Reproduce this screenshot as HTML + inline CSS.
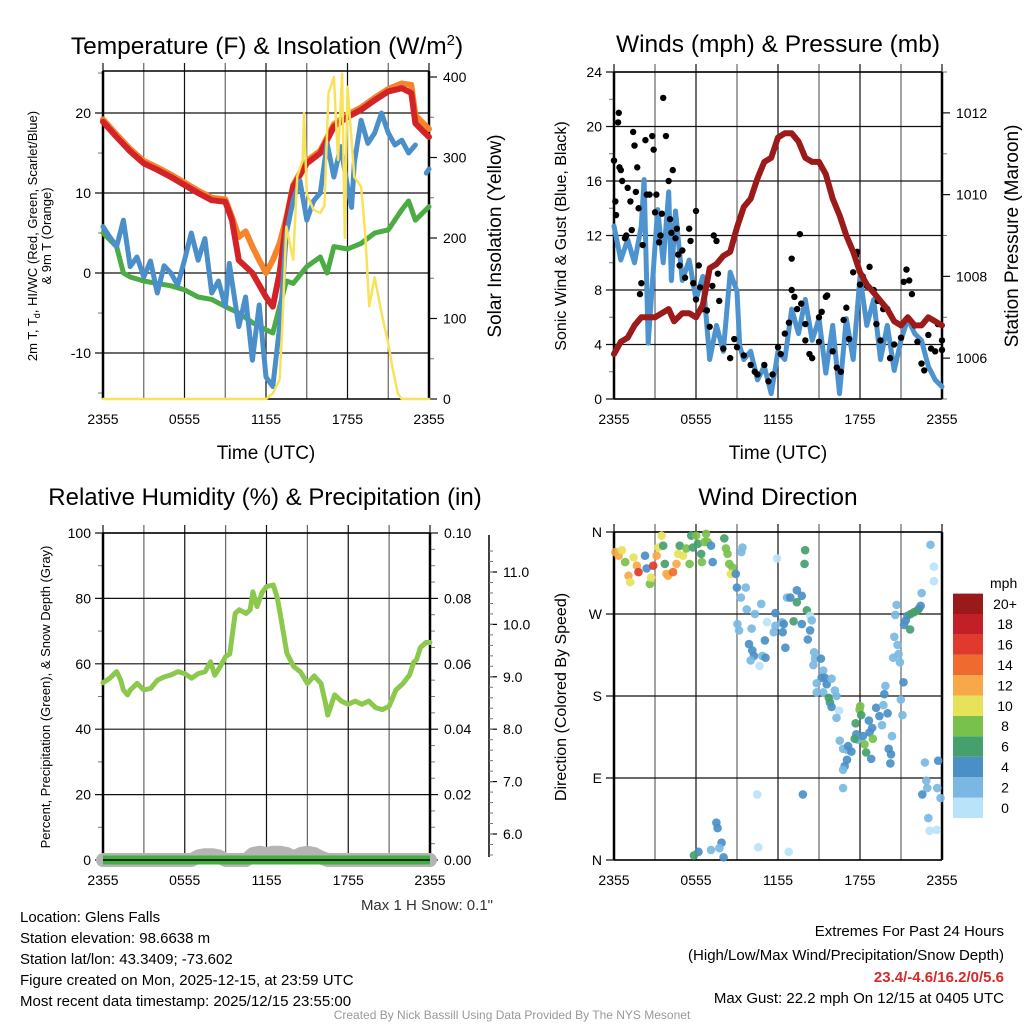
<!DOCTYPE html>
<html><head><meta charset="utf-8"><style>
html,body{margin:0;padding:0;background:#fff;}
svg{display:block;font-family:"Liberation Sans",sans-serif;}
</style></head><body>
<svg id="fig" width="1024" height="1024" viewBox="0 0 1024 1024" xmlns="http://www.w3.org/2000/svg">
<rect width="1024" height="1024" fill="#fff"/>
<!-- titles -->
<text x="267" y="54" font-size="24.5" text-anchor="middle">Temperature (F) &amp; Insolation (W/m<tspan font-size="15" dy="-9">2</tspan><tspan dy="9">)</tspan></text>
<text x="778" y="52" font-size="24.5" text-anchor="middle">Winds (mph) &amp; Pressure (mb)</text>
<text x="265" y="505" font-size="24" text-anchor="middle">Relative Humidity (%) &amp; Precipitation (in)</text>
<text x="778" y="505" font-size="24.5" text-anchor="middle">Wind Direction</text>
<!-- axis titles -->
<text transform="translate(37,236) rotate(-90)" font-size="13" text-anchor="middle">2m T, T<tspan font-size="9" dy="3">d</tspan><tspan dy="-3">, HI/WC (Red, Green, Scarlet/Blue)</tspan></text>
<text transform="translate(51,236) rotate(-90)" font-size="13" text-anchor="middle">&amp; 9m T (Orange)</text>
<text transform="translate(501,236) rotate(-90)" font-size="19" text-anchor="middle">Solar Insolation (Yellow)</text>
<text x="266" y="459" font-size="19" text-anchor="middle">Time (UTC)</text>
<text transform="translate(566,236) rotate(-90)" font-size="16" text-anchor="middle">Sonic Wind &amp; Gust (Blue, Black)</text>
<text transform="translate(1018,236) rotate(-90)" font-size="19" text-anchor="middle">Station Pressure (Maroon)</text>
<text x="778" y="459" font-size="19" text-anchor="middle">Time (UTC)</text>
<text transform="translate(50,697) rotate(-90)" font-size="13" text-anchor="middle">Percent, Precipitation (Green), &amp; Snow Depth (Gray)</text>
<text transform="translate(566,697) rotate(-90)" font-size="16" text-anchor="middle">Direction (Colored By Speed)</text>
<g id="plots"></g>
<!-- bottom text -->
<text x="493" y="910" font-size="15" text-anchor="end" fill="#333">Max 1 H Snow: 0.1"</text>
<g font-size="15">
<text x="20" y="922">Location: Glens Falls</text>
<text x="20" y="943">Station elevation: 98.6638 m</text>
<text x="20" y="964">Station lat/lon: 43.3409; -73.602</text>
<text x="20" y="985">Figure created on Mon, 2025-12-15, at 23:59 UTC</text>
<text x="20" y="1006">Most recent data timestamp: 2025/12/15 23:55:00</text>
</g>
<g font-size="15" text-anchor="end">
<text x="1004" y="936">Extremes For Past 24 Hours</text>
<text x="1004" y="960">(High/Low/Max Wind/Precipitation/Snow Depth)</text>
<text x="1004" y="982" fill="#d42a2a" font-weight="bold">23.4/-4.6/16.2/0/5.6</text>
<text x="1004" y="1003">Max Gust: 22.2 mph On 12/15 at 0405 UTC</text>
</g>
<text x="512" y="1019" font-size="12" fill="#999" text-anchor="middle">Created By Nick Bassill Using Data Provided By The NYS Mesonet</text>
</svg>
<script>
// ---------- data ----------
const xTickLabels = ["2355","0555","1155","1755","2355"];
const tempHours = [0,1,2,3,4,5,6,7,8,9,9.5,10,11,12,12.5,13,13.5,14,15,16,17,18,19,20,21,22,22.7,23,24];
const tempVals  = [18.9,17,15.2,13.7,12.9,12,11,10,9.1,8.9,6.6,1.6,0,-3,-4.2,0,6.6,10.8,13.7,15,18.3,19.5,20.4,21.6,22.7,23.1,22.5,18.7,17];
const t9Hours = [0,1,2,3,4,5,6,7,8,9,9.5,10,10.5,11,11.5,12,12.5,13,13.5,14,15,16,17,18,19,20,21,22,22.7,23,24];
const t9Vals  = [19.2,17.3,15.5,14,13.2,12.3,11.3,10.3,9.4,9.2,7,4.5,5.2,3.3,1.6,0,1.6,3.7,6.9,11,14,15.3,18.6,19.8,20.7,21.9,23,23.7,23.5,19.7,18];
const wcHours = [0,0.5,1,1.5,2,2.5,3,3.5,4,4.5,5,5.5,6,6.5,7,7.5,8,8.5,9,9.3,10,10.5,11,11.5,12,12.5,13,13.5,14,14.5,15,15.5,16,16.5,17,17.5,18,18.3,18.5,19,19.5,20,20.5,21,21.5,22,22.5,23];
const wcVals  = [5.8,4.5,3.3,6.6,0.8,2,-0.5,1.5,-2.5,0.9,0,-1.5,1.6,5,1.6,4.3,-2.5,-1,-4.2,1.2,-6.7,-3,-10.9,-4,-13,-14.2,-6.7,5,9.1,11.5,6.6,9,10,16.2,12,15.8,10.8,8.2,13.8,19.1,16.2,17.5,20,17.5,16,16.6,15,16];
const wcHours2 = [23.8,24];
const wcVals2  = [12.5,13];
const tdHours = [0,1,1.5,2,3,4,5,6,7,8,9,10,11,12,12.5,13,13.5,14,15,16,16.5,17,18,19,20,21,22,22.5,23,24];
const tdVals  = [5,3.3,0,-0.5,-1,-1.3,-1.6,-2.1,-3,-3.3,-4.2,-5,-6.2,-7.1,-7.5,-4.2,-1,-1.3,0.8,2,0,3.3,3,3.7,5,5.4,7.9,9,6.6,8.3];
const solarHours = [0,12,12.5,13,13.2,13.5,14,14.3,14.7,14.8,15,15.5,16,16.3,16.6,17,17.3,17.6,17.8,18,18.5,19,19.3,19.6,20,20.5,21,21.3,21.7,22,24];
const solarVals  = [0,0,7,24,90,214,173,276,297,355,255,235,231,240,380,400,297,404,200,388,276,264,206,115,151,107,69,40,7,0,0];
const tempTicks = [-10,0,10,20];
const solarTicks = [0,100,200,300,400];

const windHours = [0,0.5,1,1.5,2,2.2,2.5,3,3.2,3.6,4,4.2,4.5,5,5.5,6,6.5,7,7.5,8,8.5,9,9.2,9.5,10,10.5,11,11.5,12,12.5,13,13.5,14,14.5,15,15.5,16,16.5,17,17.5,18,18.5,19,19.5,20,20.5,21,21.5,22,22.5,23,23.5,24];
const windVals  = [12.7,10.2,11.7,10,12.7,16.1,4.1,11.2,13.9,10,15.2,8.7,13.8,8.7,10.2,7.3,9,2.9,5.4,3.5,9.3,7.9,3.9,2.9,3.5,1.4,2.4,0.4,3.5,2.9,6.6,4.8,7.3,4.3,5.9,1.9,5.4,0.4,5.9,2.9,9,5.4,7.3,2.9,5.4,2.1,4.3,5.9,4.8,4.3,2.4,1.4,0.9];
const gustHours = [0,0.1,0.15,0.3,0.35,0.4,0.5,0.6,0.8,0.9,1,1.2,1.3,1.4,1.5,1.6,1.7,1.8,1.9,2,2.1,2.3,2.4,2.6,2.8,2.9,3,3.1,3.3,3.4,3.5,3.6,3.8,4,4.1,4.2,4.3,4.5,4.6,4.7,4.8,5,5.2,5.5,5.6,5.8,6,6,6.2,6.3,6.5,6.8,7,7.2,7.3,7.5,7.6,7.7,8,8.5,8.8,9,9.5,10,10.3,10.5,11,11.3,11.6,12,12.2,12.5,12.8,13,13,13.2,13.4,13.6,13.7,14,14,14.3,14.5,15,15,15.2,15.5,15.6,16,16.3,16.6,16.8,17,17.2,17.5,17.7,17.8,18,18.2,18.5,18.7,19,19.2,19.3,19.5,19.7,20,20.2,20.5,21,21.2,21.4,21.6,21.8,22,22.2,22.5,22.7,23,23.2,23.5,23.7,24,24];
const gustVals  = [17.5,14.5,13.5,20.3,21,17,16.8,16,11.8,12,15.5,14.5,12.4,19.6,18.6,15.2,17,14,7.7,8.5,11.3,19,15,15,19.3,18.3,13.7,15,11.5,12,13.6,22.1,19.3,16,13.2,12.2,16.8,11.8,12.5,10.6,9.8,10.9,8.9,12.5,11.6,8.5,7.3,13.8,9.8,8.2,6.6,6.5,5.3,8.3,12,11.6,9.2,7.2,3.7,3,4.4,3.8,3.2,2.5,2,1.8,2.5,1.3,1.8,3.8,3.3,4.8,5.6,8,10.3,7.5,6.6,12.1,7,5.5,4.3,3.3,3,4.2,6,6.4,7.5,7.6,3.5,2.3,2,5.8,6.7,4.4,9.3,10.5,10.8,8.4,9,8.3,9.7,8,5.5,7.2,4.3,6.6,6.6,3,4,4.5,8.6,9.5,8.7,7.7,5.4,4.2,2.6,2.1,4.7,3.7,3.5,5.5,4.3,3.6];
const presHours = [0,0.5,1,1.5,2,3,3.5,4,4.4,5,5.5,6,6.5,7,7.5,8,8.5,9,9.5,10,10.5,11,11.5,12,12.5,13,13.5,14,14.5,15,15.5,16,16.5,17,17.5,18,18.5,19,19.5,20,20.5,21,21.5,22,22.5,23,23.5,24];
const presVals  = [1006.1,1006.4,1006.5,1006.8,1007.0,1007.0,1007.1,1007.2,1006.9,1007.1,1007.1,1007.0,1007.3,1008.2,1008.3,1008.5,1008.6,1009.2,1009.7,1009.9,1010.4,1010.8,1010.9,1011.4,1011.5,1011.5,1011.3,1010.9,1010.8,1010.8,1010.5,1009.9,1009.5,1009.0,1008.6,1008.1,1007.8,1007.6,1007.4,1007.2,1006.9,1006.8,1007.0,1006.8,1006.8,1007.0,1006.9,1006.8];
const windTicks = [0,4,8,12,16,20,24];
const presTicks = [1006,1008,1010,1012];

const rhHours = [0,0.5,1,1.3,1.5,1.8,2,2.5,3,3.5,4,4.5,5,5.5,6,6.5,7,7.5,7.9,8.2,8.5,9,9.3,9.7,10,10.5,10.8,11,11.3,11.7,12,12.5,12.8,13,13.5,14,14.5,15,15.5,16,16.3,16.5,17,17.5,18,18.5,19,19.5,20,20.5,21,21.5,22,22.5,22.8,23,23.3,23.7,24];
const rhVals  = [54.2,55.6,57.6,55,52,50.5,52,54,52,52.5,55,56,56.6,57.6,57,55.6,57,57.6,60.6,56.5,58.4,62.2,63,75.4,76.5,75.4,76.5,82,77.5,82,83.6,84.1,80,75.4,63.2,59.1,57.5,54,56.3,54,48.5,44.3,50.5,48.6,47.6,48.6,47.6,48.6,46.6,46,47,52,53.9,56.6,60.5,61.2,65,66.5,66.5];
const snowHours = [0,6.5,7,7.5,8,8.5,9,10.5,11,11.5,12,12.5,13,13.5,14,14.5,15,15.5,16,16.5,24];
const snowVals  = [0,0,0.3,0.4,0.4,0.3,0,0,0.5,0.6,0.5,0.6,0.6,0.5,0.2,0.5,0.6,0.5,0.2,0,0];
const precipHours = [0,24];
const precipVals  = [0,0];
const rhTicks = [0,20,40,60,80,100];
const precipTickLabels = ["0.00","0.02","0.04","0.06","0.08","0.10"];
const snowTicks = [6,7,8,9,10,11];

const dirHours = [0.1,0.34,0.58,0.82,1.06,1.18,1.43,1.67,1.79,2.27,2.39,2.63,2.71,2.87,3.12,3.24,3.48,3.6,3.72,3.84,3.96,4.32,4.57,4.69,4.81,5.05,5.29,5.53,5.65,5.77,6.01,6.14,6.38,6.43,6.74,6.62,6.86,7.1,7.22,8.07,8.19,8.31,8.43,8.67,8.55,8.91,8.99,9.4,9.32,9.64,9.28,9.71,10.31,10.77,9.03,9.15,10.07,9.88,10.12,10.24,10.0,10.65,10.85,11.09,11.04,11.2,11.69,11.81,11.81,11.93,12.29,12.34,12.42,12.54,12.66,12.9,13.38,13.38,13.74,13.14,13.74,13.99,13.94,14.11,14.35,14.47,14.35,14.18,14.64,14.71,14.59,15.14,15.31,15.43,15.19,14.83,15.56,15.92,14.83,15.31,15.72,15.8,15.92,16.16,16.28,16.47,16.28,16.52,16.76,17.05,17.13,17.37,16.88,17.05,16.76,16.76,17.68,17.73,17.85,17.61,18.21,18.33,18.45,18.02,17.97,18.09,18.65,18.7,18.82,18.94,18.89,19.18,19.42,19.61,19.71,19.86,19.78,20.02,20.34,20.1,20.27,20.22,20.99,21.11,21.18,20.92,20.43,20.82,20.75,20.51,20.58,20.68,21.23,21.35,21.47,21.71,21.96,22.2,22.32,21.67,22.44,22.51,23.16,23.41,23.41,22.75,23.72,22.85,22.92,23.65,22.56,23.89,23.0,23.09,23.6,7.49,7.58,7.87,7.71,7.1,6.18,5.85,8.02,10.48,10.56,12.78,13.82];
const dirVals  = [338,334,340,327,312,305,332,323,316,334,320,303,310,323,334,343,356,345,325,314,312,316,325,336,345,334,342,325,356,343,356,347,336,327,358,349,349,345,327,353,342,336,325,321,314,314,299,343,338,299,288,275,270,281,259,252,254,237,230,224,219,213,224,222,241,261,250,257,271,331,261,250,259,233,288,288,296,283,290,262,259,340,325,274,268,263,252,242,228,221,214,221,208,200,200,194,193,199,184,184,178,173,168,186,180,164,156,131,122,121,125,119,103,110,99,79,150,138,132,133,136,127,118,169,165,159,153,140,111,133,145,167,158,148,170,191,182,161,136,122,116,106,176,159,195,217,222,226,236,245,269,280,258,263,268,270,272,274,276,253,279,293,346,322,306,107,109,87,79,79,72,68,46,32,33,41,35,19,13,11,9,5,3,72,14,9,72];
const dirSpeeds = [12,12,10,8,12,10,10,12,16,4,4,8,10,16,12,10,10,6,6,12,12,14,12,10,6,10,8,8,6,6,8,6,6,8,8,8,8,4,4,6,8,8,8,8,10,4,4,2,2,2,2,2,2,2,2,2,2,4,4,4,2,0,2,4,4,0,2,2,4,0,2,4,4,4,2,4,4,6,4,6,4,6,6,6,0,2,4,4,2,2,2,4,2,4,4,2,4,2,2,2,6,6,4,2,2,0,2,2,2,2,4,4,4,4,2,2,6,4,2,6,4,8,6,8,8,6,4,4,4,8,4,4,4,2,2,2,4,4,2,4,4,4,2,2,4,2,2,2,2,2,2,2,4,4,4,6,6,6,6,6,4,2,2,0,0,2,4,2,2,2,4,2,2,0,0,4,4,4,2,2,4,6,4,0,0,0,4];
const dirTickLabels = ["N","E","S","W","N"];
const speedBins = ["0","2","4","6","8","10","12","14","16","18","20+"];
const speedColors = ["#b8e3f8","#7ab8e3","#4a8fc6","#45a06e","#77c14c","#e6e25a","#f7a94a","#ef6a2e","#e0392d","#c21f28","#9a1a1c"];

// ---------- helpers ----------
const NS = "http://www.w3.org/2000/svg";
const root = document.getElementById("plots");
function mk(tag, attrs, parent){ const e=document.createElementNS(NS,tag); for(const k in attrs) e.setAttribute(k,attrs[k]); (parent||root).appendChild(e); return e; }
function lin(d0,d1,r0,r1){ return v => r0 + (v-d0)*(r1-r0)/(d1-d0); }
function pathD(xs, ys, sx, sy){ return xs.map((h,i)=>(i?"L":"M")+sx(xs[i]).toFixed(1)+","+sy(ys[i]).toFixed(1)).join(""); }

function frame(p, name){
  const g = mk("g",{});
  
  
  const sx = lin(0,24,p.x0,p.x1);
  for(let h=0; h<=24; h+=3){
    const x = sx(h);
    const l = mk("line",{x1:x,x2:x,y1:p.y0-8,y2:p.y1,stroke:(h%6==3)?"#666":"#111","stroke-width":1.2},g);
    
    
  }
  for(let i=0;i<5;i++){
    const t = mk("text",{x:sx(i*6),y:p.y1+25,"font-size":14,"text-anchor":"middle"},g);
    t.textContent = xTickLabels[i];
    
    
  }
  return {g, sx};
}
function hgrid(g,p,y,label){
  const l = mk("line",{x1:p.x0-8,x2:p.x1,y1:y,y2:y,stroke:"#111","stroke-width":1.2},g);
  
  
  const t = mk("text",{x:p.x0-12,y:y+5,"font-size":14,"text-anchor":"end"},g);
  t.textContent = label;
  
  
}
function rightTick(g,x,y,label,len){
  const l = mk("line",{x1:x,x2:x+(len||8),y1:y,y2:y,stroke:"#111","stroke-width":1.2},g);
  
  
  if(label!==null){
    const t = mk("text",{x:x+14,y:y+5,"font-size":14},g);
    t.textContent = label;
    
    
  }
}
function minorTick(g,x,y,dir){
  const l = mk("line",{x1:x,x2:x+dir*5,y1:y,y2:y,stroke:"#777","stroke-width":1},g);
  
  
}
function border(g,p){
  mk("line",{x1:p.x0,x2:p.x0,y1:p.y0,y2:p.y1,stroke:"#000","stroke-width":2.5},g);
  mk("line",{x1:p.x1,x2:p.x1,y1:p.y0,y2:p.y1,stroke:"#000","stroke-width":2.5},g);
  mk("line",{x1:p.x0,x2:p.x1,y1:p.y0,y2:p.y0,stroke:"#000","stroke-width":1.5},g);
  mk("line",{x1:p.x0,x2:p.x1,y1:p.y1,y2:p.y1,stroke:"#000","stroke-width":1.5},g);
}
function series(xs,ys,sx,sy,color,w,name,extra){
  const e = mk("path",Object.assign({d:pathD(xs,ys,sx,sy),fill:"none",stroke:color,"stroke-width":w,"stroke-linejoin":"round","stroke-linecap":"round"},extra||{}));
  
  
  return e;
}

// ---------- panel 1: temperature ----------
(function(){
  const p = {x0:103,x1:429,y0:71,y1:399};
  const {g,sx} = frame(p,"temperature");
  const sy = lin(-15.75,25.25,p.y1,p.y0);
  const ss = lin(0,400,399,77);
  tempTicks.forEach(v=>hgrid(g,p,sy(v),String(v)));
  for(let v=-15; v<=25; v+=10) minorTick(g,p.x0,sy(v),-1);
  solarTicks.forEach(v=>rightTick(g,p.x1,ss(v),String(v)));
  for(let v=50; v<400; v+=100) minorTick(g,p.x1,ss(v),1);
  border(g,p);
  series(t9Hours,t9Vals,sx,sy,"#f5842a",6,"series-9m-temperature");
  series(tempHours,tempVals,sx,sy,"#d42327",6,"series-2m-temperature");
  series(tdHours,tdVals,sx,sy,"#4aac43",5,"series-dewpoint");
  series(wcHours,wcVals,sx,sy,"#4a8fca",5,"series-wind-chill");
  series(wcHours2,wcVals2,sx,sy,"#4a8fca",5,"series-wind-chill-end");
  series(solarHours,solarVals,sx,ss,"#f9e25a",2.5,"series-solar-insolation");
})();

// ---------- panel 2: winds ----------
(function(){
  const p = {x0:614,x1:942,y0:72,y1:399};
  const {g,sx} = frame(p,"winds");
  const sy = lin(0,24,p.y1,p.y0);
  const sp = lin(1005,1013,p.y1,p.y0);
  windTicks.forEach(v=>hgrid(g,p,sy(v),String(v)));
  for(let v=2; v<24; v+=4) minorTick(g,p.x0,sy(v),-1);
  presTicks.forEach(v=>rightTick(g,p.x1,sp(v),String(v)));
  for(let v=1005; v<=1013; v+=2) minorTick(g,p.x1,sp(v),1);
  border(g,p);
  series(windHours,windVals,sx,sy,"#4d93cf",5,"series-sonic-wind");
  gustHours.forEach((h,i)=>{
    const c = mk("circle",{cx:sx(h),cy:sy(gustVals[i]),r:3.2,fill:"#000"});
    
    
  });
  series(presHours,presVals,sx,sp,"#9b1a1a",6,"series-station-pressure");
})();

// ---------- panel 3: humidity ----------
(function(){
  const p = {x0:103,x1:430,y0:533,y1:860};
  const {g,sx} = frame(p,"humidity");
  const sy = lin(0,100,p.y1,p.y0);
  const sn = lin(6,11,834,572);
  rhTicks.forEach(v=>hgrid(g,p,sy(v),String(v)));
  for(let v=10; v<100; v+=20) minorTick(g,p.x0,sy(v),-1);
  rhTicks.forEach((v,i)=>rightTick(g,p.x1,sy(v),precipTickLabels[i]));
  for(let v=0; v<100; v+=5) if(v%20) minorTick(g,p.x1,sy(v),1);
  const ax = mk("line",{x1:489,x2:489,y1:535,y2:857,stroke:"#000","stroke-width":1.5},g);
  
  
  snowTicks.forEach(v=>{
    const y = sn(v);
    mk("line",{x1:489,x2:497,y1:y,y2:y,stroke:"#000","stroke-width":1.2},g);
    const t = mk("text",{x:503,y:y+5,"font-size":14},g);
    t.textContent = v.toFixed(1);
    
    
  });
  for(let v=5.6; v<11.5; v+=0.2){ const y=sn(v); if(y>535&&y<857) mk("line",{x1:489,x2:493,y1:y,y2:y,stroke:"#777","stroke-width":1},g); }
  border(g,p);
  series(rhHours,rhVals,sx,sy,"#8cc84b",5,"series-relative-humidity");
  const ssn = lin(0,1,p.y1,p.y1-12);
  series(snowHours,snowVals,sx,ssn,"#b4b4b4",14,"series-snow-depth");
  series(precipHours,precipVals,sx,sy,"#45ad3f",9,"series-precipitation",{"stroke-linecap":"butt"});
  mk("line",{x1:p.x0,x2:p.x1,y1:p.y1,y2:p.y1,stroke:"#000","stroke-width":1.5});
})();

// ---------- panel 4: wind direction ----------
(function(){
  const p = {x0:614,x1:942,y0:532,y1:860};
  const {g,sx} = frame(p,"wind-direction");
  const sy = lin(0,360,p.y1,p.y0);
  [0,90,180,270,360].forEach((v,i)=>hgrid(g,p,sy(v),dirTickLabels[i]));
  border(g,p);
  dirHours.forEach((h,i)=>{
    const c = mk("circle",{cx:sx(h),cy:sy(dirVals[i]),r:4.3,fill:speedColors[Math.min(10,Math.round(dirSpeeds[i]/2))],"fill-opacity":0.92});
    
    
  });
  const cb = mk("g",{});
  
  
  const t = mk("text",{x:990,y:588,"font-size":14},cb);
  t.textContent = "mph";
  
  
  const h = 20.4;
  speedBins.forEach((lab,i)=>{
    const y = 818 - (i+1)*h;
    const r = mk("rect",{x:953,y:y,width:30,height:h,fill:speedColors[i]},cb);
    
    
    const tl = mk("text",{x:1005,y:y+h/2+5,"font-size":14,"text-anchor":"middle"},cb);
    tl.textContent = lab;
    
    
  });
})();
</script>
</body></html>
